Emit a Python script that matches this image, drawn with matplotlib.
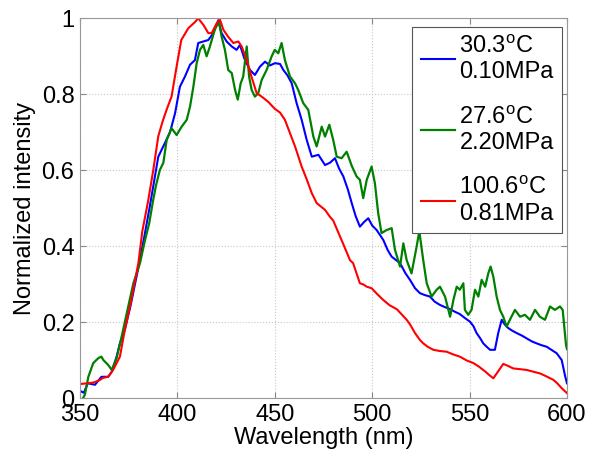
import numpy as np
import matplotlib
matplotlib.use("Agg")
import matplotlib.pyplot as plt

plt.rcParams['font.family'] = ['Liberation Sans', 'DejaVu Sans']
plt.rcParams['mathtext.fontset'] = 'custom'
plt.rcParams['mathtext.rm'] = 'Liberation Sans'

# 30.3 C, 0.10 MPa
wl_blue = [350, 352, 354, 357.7, 361, 364.5, 366.3, 368.8, 370.5, 373, 376, 380, 383, 386, 388,
           390.2, 393.6, 396.2, 398.8, 401.3, 403.9, 406.5, 409, 410.7, 413.3, 415.9, 418.4, 421,
           422.7, 425.3, 427.9, 430.4, 432.1, 434.7, 437.3, 439.8, 442.4, 445, 447.5, 450.1, 452.7,
           454.4, 456.5, 458.7, 461.2, 463.8, 466.4, 469, 472.4, 475.8, 478.3, 480.9, 483, 485.2,
           487.5, 489.5, 491.5, 493.7, 496, 498, 500, 502.3, 505.7, 508, 510, 512, 514.3, 517, 519.4,
           522, 524.5, 527, 529.7, 532, 534.8, 537.5, 540, 542.5, 545, 547.5, 550.2, 552, 553.6,
           555.5, 557, 559, 560.5, 563, 564.7, 566.5, 568, 569.9, 572, 574.2, 577, 579.3, 582, 584.4,
           587, 589.6, 592, 594.7, 597.3, 599, 600]
int_blue = [0.02, 0.015, 0.04, 0.036, 0.057, 0.057, 0.07, 0.11, 0.145, 0.18, 0.245, 0.345, 0.425, 0.51, 0.57,
            0.636, 0.672, 0.70, 0.75, 0.82, 0.847, 0.878, 0.89, 0.935, 0.939, 0.943, 0.961, 0.995,
            0.961, 0.939, 0.926, 0.917, 0.93, 0.89, 0.864, 0.851, 0.873, 0.886, 0.876, 0.882, 0.88,
            0.864, 0.85, 0.829, 0.777, 0.733, 0.68, 0.636, 0.641, 0.614, 0.62, 0.632, 0.605, 0.584,
            0.55, 0.514, 0.48, 0.452, 0.465, 0.474, 0.455, 0.443, 0.417, 0.39, 0.373, 0.365, 0.356, 0.33, 0.312,
            0.29, 0.277, 0.272, 0.268, 0.255, 0.246, 0.24, 0.235, 0.228, 0.222, 0.212, 0.202, 0.19, 0.172,
            0.158, 0.145, 0.135, 0.128, 0.128, 0.172, 0.207, 0.195, 0.185, 0.178, 0.172, 0.165, 0.158, 0.15, 0.145,
            0.14, 0.136, 0.128, 0.119, 0.101, 0.06, 0.04]

# 27.6 C, 2.20 MPa
wl_green = [351.5, 352.5, 354.3, 356.8, 359.4, 361, 362, 364.5, 366.3, 368.8, 371.4, 374, 377.4, 380.8,
            383.4, 385.5, 387.5, 389, 391, 392.8, 394.5, 397, 399.6, 402.2, 404.8, 406.5, 408.2, 409.9,
            411.6, 413.3, 415, 416.7, 419.2, 421.3, 422.7, 424.4, 426.1, 427.9, 429.6, 431, 432.5, 433.8,
            435.6, 436.8, 438.1, 439.8, 441.5, 443.3, 445.8, 448.4, 450, 451.8, 453.5, 455.2, 457.8, 460.4,
            462, 464.6, 467.2, 469.8, 471.5, 474.1, 475.8, 478, 480, 481.8, 484.3, 486.9, 489.5, 492,
            493.7, 495.4, 497.2, 499.7, 501.4, 503.1, 504.8, 507.4, 510, 511.7, 514.3, 516, 517.7, 520.2,
            522.8, 524.2, 526.2, 528, 530.5, 533.1, 534.8, 537.4, 540, 541.7, 543.4, 545, 546.8, 547.6,
            549.3, 551, 552.8, 554.5, 556.2, 558, 559.6, 560.8, 562.2, 563.9, 565.6, 567.3, 569, 570.7,
            573.3, 575.9, 578.4, 581, 583.6, 586.1, 588.7, 591.3, 593.8, 596.4, 597.8, 599.5, 600]
int_green = [0.0, 0.01, 0.057, 0.093, 0.106, 0.11, 0.101, 0.088, 0.075, 0.106, 0.163, 0.224, 0.303, 0.356,
             0.417, 0.46, 0.52, 0.56, 0.601, 0.62, 0.68, 0.711, 0.693, 0.715, 0.733, 0.768, 0.82, 0.882,
             0.917, 0.93, 0.9, 0.926, 0.97, 0.992, 0.952, 0.917, 0.864, 0.856, 0.812, 0.786, 0.829, 0.847,
             0.926, 0.847, 0.812, 0.794, 0.803, 0.838, 0.864, 0.9, 0.917, 0.908, 0.935, 0.89, 0.847, 0.829,
             0.812, 0.777, 0.759, 0.689, 0.663, 0.715, 0.689, 0.72, 0.68, 0.636, 0.632, 0.649, 0.612, 0.584,
             0.575, 0.527, 0.575, 0.61, 0.566, 0.487, 0.435, 0.443, 0.448, 0.391, 0.347, 0.408, 0.364, 0.329,
             0.399, 0.44, 0.364, 0.303, 0.268, 0.286, 0.294, 0.268, 0.215, 0.259, 0.294, 0.286, 0.303, 0.233,
             0.22, 0.233, 0.286, 0.268, 0.312, 0.294, 0.329, 0.347, 0.32, 0.268, 0.233, 0.215, 0.189, 0.207,
             0.233, 0.215, 0.22, 0.207, 0.233, 0.215, 0.207, 0.242, 0.233, 0.242, 0.233, 0.141, 0.13]

# 100.6 C, 0.81 MPa
wl_red = [350, 354, 357, 360, 361.8, 364.4, 367, 370.5, 373, 376, 380, 382, 385, 387.6, 390.2, 392.5,
          394.5, 397, 399.6, 402, 405.6, 409, 410.7, 413.3, 415.9, 417.6, 420.2, 421.9, 423.6, 426,
          428.7, 431.3, 433, 435.6, 438, 440.7, 443.3, 446.7, 450, 452.7, 455.2, 457.8, 460.4, 463.8,
          466.5, 469, 471.5, 475.8, 478.3, 480, 483.5, 485, 488.6, 490.2, 493.7, 495.4, 497.2, 499.7,
          502.5, 505.7, 509, 512.6, 515, 517.7, 519.4, 522, 524.5, 526.2, 528.5, 531.4, 534.5, 538.2,
          541.5, 545, 548.5, 552, 555, 558, 560, 562.2, 564.5, 567.3, 570, 572.4, 576, 579.3, 583,
          586.1, 589.5, 593, 595, 597.3, 600]
int_red = [0.038, 0.04, 0.042, 0.048, 0.054, 0.057, 0.075, 0.11, 0.18, 0.25, 0.357, 0.44, 0.52, 0.6, 0.69, 0.73,
           0.76, 0.794, 0.873, 0.943, 0.974, 0.99, 1.0, 0.983, 0.961, 0.961, 0.987, 0.996, 0.97, 0.952,
           0.935, 0.939, 0.926, 0.89, 0.847, 0.803, 0.794, 0.78, 0.762, 0.752, 0.733, 0.698, 0.663, 0.61,
           0.575, 0.54, 0.514, 0.496, 0.478, 0.468, 0.426, 0.408, 0.364, 0.356, 0.303, 0.30, 0.294, 0.29,
           0.275, 0.259, 0.245, 0.235, 0.222, 0.207, 0.195, 0.172, 0.154, 0.145, 0.136, 0.128, 0.125, 0.123,
           0.116, 0.11, 0.1, 0.093, 0.083, 0.071, 0.062, 0.053, 0.07, 0.091, 0.085, 0.079, 0.077, 0.075, 0.07,
           0.066, 0.058, 0.049, 0.04, 0.027, 0.014]

labels = ['30.3$^\\mathrm{o}$C\n0.10MPa', '27.6$^\\mathrm{o}$C\n2.20MPa', '100.6$^\\mathrm{o}$C\n0.81MPa']
xticks = [350, 400, 450, 500, 550, 600]
yticks = [0, 0.2, 0.4, 0.6, 0.8, 1]
yticklabels = ['0', '0.2', '0.4', '0.6', '0.8', '1']

fig = plt.figure(figsize=(5.89, 4.58), dpi=100)
ax = fig.add_axes([0.1358, 0.13, 0.8268, 0.830])

ax.plot(wl_blue, int_blue, color='#0000ff', lw=1.5, label=labels[0])
ax.plot(wl_green, int_green, color='#008000', lw=1.6, label=labels[1])
ax.plot(wl_red, int_red, color='#ff0000', lw=1.5, label=labels[2])

ax.set_xlim(350, 600)
ax.set_ylim(0, 1)
ax.set_xticks(xticks)
ax.set_yticks(yticks)
ax.set_yticklabels(yticklabels)
ax.grid(True, linestyle=':', color='#c8c8c8', lw=0.8)
ax.tick_params(direction='in', top=True, right=True, labelsize=17, length=4, color='#888888', pad=4)
for sp in ax.spines.values():
    sp.set_color('#999999')
    sp.set_linewidth(0.8)

ax.set_xlabel('Wavelength (nm)', fontsize=17, labelpad=1)
ax.set_ylabel('Normalized intensity', fontsize=17, labelpad=4)

leg = ax.legend(loc='upper right', bbox_to_anchor=(0.99, 0.978), fontsize=17, fancybox=False,
                framealpha=1, edgecolor='#555555', handlelength=1.45, handletextpad=0.2,
                labelspacing=0.95, borderpad=0.35, borderaxespad=0)
leg.get_frame().set_linewidth(0.8)

fig.savefig('out.png', dpi=100)
